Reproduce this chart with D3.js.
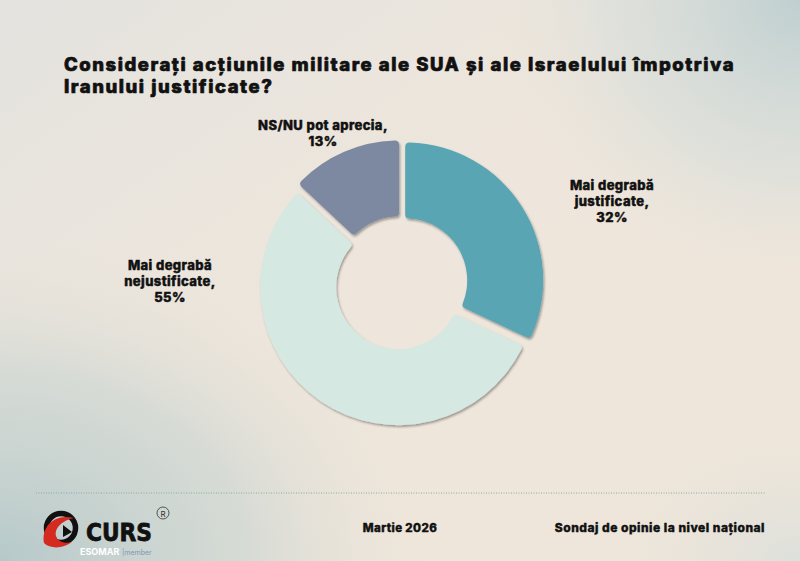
<!DOCTYPE html>
<html>
<head>
<meta charset="utf-8">
<script src="https://cdn.jsdelivr.net/npm/d3@7"></script>
<style>
  html, body { margin: 0; padding: 0; width: 800px; height: 561px; overflow: hidden; }
  svg { display: block; }
  text { font-family: Inter, "Open Sans", "DejaVu Sans", sans-serif; }
</style>
</head>
<body>
<svg id="chart" width="800" height="561"></svg>
<script>
// ---- data ----
const titleLines = ["Considerați acțiunile militare ale SUA și ale Israelului împotriva", "Iranului justificate?"];
const categories = ["Mai degrabă justificate", "Mai degrabă nejustificate", "NS/NU pot aprecia"];
const values = [32, 55, 13];
const labelLines = [["Mai degrabă", "justificate,", "32%"], ["Mai degrabă", "nejustificate,", "55%"], ["NS/NU pot aprecia,", "13%"]];
const footerDate = "Martie 2026";
const footerNote = "Sondaj de opinie la nivel național";

// ---- styles / layout ----
const sliceColors = ["#5aa5b3", "#d5e8e2", "#7b89a1"];
const W = 800, H = 561;
const cx = 401, cy = 283, outerR = 138, innerR = 62, explode = 5;
const labelPos = [[612, 190], [170, 270], [323, 130]];

const svg = d3.select("#chart");
const defs = svg.append("defs");

// background
const bg = defs.append("linearGradient").attr("id", "bgLin").attr("x1", 0).attr("y1", 0).attr("x2", 1).attr("y2", 1);
bg.append("stop").attr("offset", "0%").attr("stop-color", "#e4e3df");
bg.append("stop").attr("offset", "45%").attr("stop-color", "#eee6dc");
bg.append("stop").attr("offset", "100%").attr("stop-color", "#efe6da");
svg.append("rect").attr("width", W).attr("height", H).attr("fill", "url(#bgLin)");

const rg1 = defs.append("radialGradient").attr("id", "bl").attr("cx", 0).attr("cy", 1).attr("r", 0.8);
rg1.append("stop").attr("offset", "0%").attr("stop-color", "#b6c9ca").attr("stop-opacity", 1);
rg1.append("stop").attr("offset", "55%").attr("stop-color", "#c6d3d0").attr("stop-opacity", 0.6);
rg1.append("stop").attr("offset", "100%").attr("stop-color", "#efe6da").attr("stop-opacity", 0);
svg.append("rect").attr("width", W * 0.7).attr("height", H * 0.75).attr("y", H * 0.25).attr("fill", "url(#bl)");

const rg2 = defs.append("radialGradient").attr("id", "tr").attr("cx", 1).attr("cy", 0).attr("r", 0.9);
rg2.append("stop").attr("offset", "0%").attr("stop-color", "#bfcfd0").attr("stop-opacity", 1);
rg2.append("stop").attr("offset", "60%").attr("stop-color", "#d3dcda").attr("stop-opacity", 0.5);
rg2.append("stop").attr("offset", "100%").attr("stop-color", "#efe6da").attr("stop-opacity", 0);
svg.append("rect").attr("x", W * 0.55).attr("width", W * 0.45).attr("height", H * 0.6).attr("fill", "url(#tr)");

const rg3 = defs.append("radialGradient").attr("id", "br").attr("cx", 1).attr("cy", 1).attr("r", 1);
rg3.append("stop").attr("offset", "0%").attr("stop-color", "#d8dedb").attr("stop-opacity", 0.8);
rg3.append("stop").attr("offset", "100%").attr("stop-color", "#efe6da").attr("stop-opacity", 0);
svg.append("rect").attr("x", W * 0.7).attr("y", H * 0.7).attr("width", W * 0.3).attr("height", H * 0.3).attr("fill", "url(#br)");

// shadow filter
const f = defs.append("filter").attr("id", "sh").attr("x", "-20%").attr("y", "-20%").attr("width", "140%").attr("height", "140%");
f.append("feDropShadow").attr("dx", 1.2).attr("dy", 1.8).attr("stdDeviation", 1.3).attr("flood-color", "#000").attr("flood-opacity", 0.35);

// helper for heavy text
function heavy(sel, sw) {
  return sel.attr("fill", "#111").attr("stroke", "#111").attr("stroke-width", sw).attr("stroke-linejoin", "round")
    .style("font-weight", 800);
}

// title
const titleSize = 18.5;
const title = heavy(svg.append("text"), 0.7).style("font-size", titleSize + "px");
titleLines.forEach((t, i) => title.append("tspan").attr("x", 64).attr("y", 71 + i * 22).text(t));
const firstTs = title.select("tspan");
const firstLen = firstTs.node().getComputedTextLength();
const ls = Math.max(0, (671 - firstLen) / titleLines[0].length);
title.style("letter-spacing", ls.toFixed(2) + "px");

// donut
const pie = d3.pie().sort(null).value(d => d);
const arcs = pie(values);
const arc = d3.arc().innerRadius(innerR).outerRadius(outerR).cornerRadius(4);
const g = svg.append("g").attr("transform", `translate(${cx},${cy})`);
g.selectAll("path.slice").data(arcs).join("path")
  .attr("class", "slice")
  .attr("d", arc)
  .attr("fill", (d, i) => sliceColors[i])
  .attr("filter", "url(#sh)")
  .attr("transform", d => {
    const a = (d.startAngle + d.endAngle) / 2;
    return `translate(${explode * Math.sin(a)},${-explode * Math.cos(a)})`;
  });

// labels
arcs.forEach((d, i) => {
  const t = heavy(svg.append("text"), 0.45).attr("text-anchor", "middle")
    .style("font-size", "13px").style("letter-spacing", "0.4px");
  labelLines[i].forEach((line, j) => {
    t.append("tspan").attr("x", labelPos[i][0]).attr("y", labelPos[i][1] + j * 16).text(line);
  });
});

// dotted separator
svg.append("line").attr("x1", 36).attr("x2", 765).attr("y1", 493).attr("y2", 493)
  .attr("stroke", "#8aa9a3").attr("stroke-width", 1).attr("stroke-dasharray", "1,1.5");

// footer
heavy(svg.append("text"), 0.4).attr("x", 400).attr("y", 532).attr("text-anchor", "middle")
  .style("font-size", "11.5px").style("letter-spacing", "0.4px").text(footerDate);
heavy(svg.append("text"), 0.4).attr("x", 765).attr("y", 532).attr("text-anchor", "end")
  .style("font-size", "12px").style("letter-spacing", "0.5px").text(footerNote);

// logo
const logo = svg.append("g").attr("transform", "translate(61,528)");
logo.append("circle").attr("r", 14.5).attr("fill", "none").attr("stroke", "#111").attr("stroke-width", 5.5);
logo.append("path").attr("d", "M-17,15 C-20,-2 -6,-15 13,-10 C2,-8 -7,0 -5,8 C-3,14 4,16 11,14 C2,21 -11,21 -17,15 Z").attr("fill", "#d42a20");
logo.append("path").attr("d", "M2,-3 L11,4 L2,9 Z").attr("fill", "#111");
svg.append("text").attr("x", 86).attr("y", 541).attr("fill", "#111").attr("stroke", "#111").attr("stroke-width", 0.8)
  .style("font-weight", 900).style("font-size", "24px").style("font-family", "'DejaVu Sans', sans-serif")
  .attr("textLength", 66).attr("lengthAdjust", "spacingAndGlyphs").text("CURS");
svg.append("circle").attr("cx", 163).attr("cy", 513).attr("r", 6).attr("fill", "none").attr("stroke", "#333").attr("stroke-width", 0.8);
svg.append("text").attr("x", 163).attr("y", 516.5).attr("text-anchor", "middle").attr("fill", "#333")
  .style("font-size", "8px").text("R");
svg.append("text").attr("x", 80).attr("y", 555).attr("fill", "#ffffff")
  .style("font-weight", 700).style("font-size", "9px").text("ESOMAR");
svg.append("text").attr("x", 122).attr("y", 555).attr("fill", "#7f97b8")
  .style("font-size", "7px").text("|member");
</script>
</body>
</html>
